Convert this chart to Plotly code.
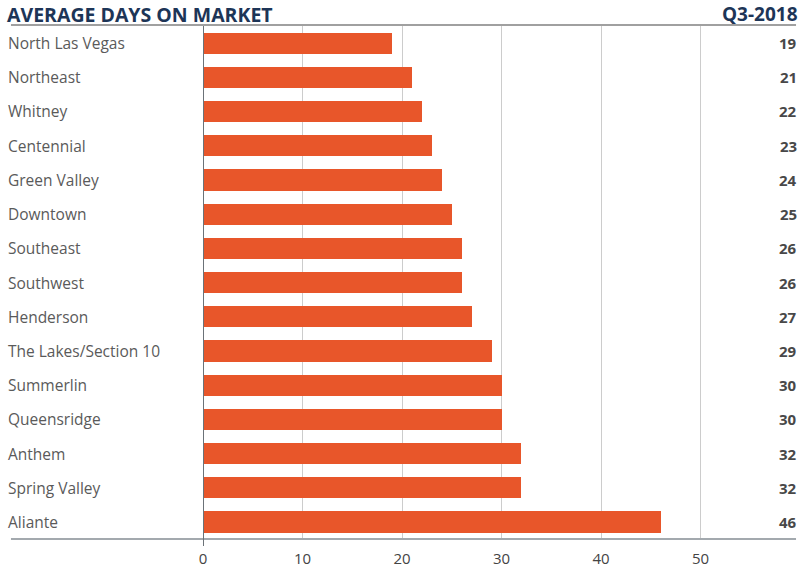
import plotly.graph_objects as go

categories = ["North Las Vegas", "Northeast", "Whitney", "Centennial", "Green Valley",
              "Downtown", "Southeast", "Southwest", "Henderson", "The Lakes/Section 10",
              "Summerlin", "Queensridge", "Anthem", "Spring Valley", "Aliante"]
values = [19, 21, 22, 23, 24, 25, 26, 26, 27, 29, 30, 30, 32, 32, 46]
tick_vals = [0, 10, 20, 30, 40, 50]
title_text = "AVERAGE DAYS ON MARKET"
period_text = "Q3-2018"

W, H = 800, 579
px_x = lambda p: p / W
px_y = lambda p: 1 - p / H

x_left, x_right = 200, 793
y_top, y_bot = 26, 539

fig = go.Figure()
fig.add_trace(go.Bar(
    x=values, y=categories, orientation="h",
    marker=dict(color="#E8562A", line=dict(width=0)),
    width=0.62, hoverinfo="x+y",
))

FONT = "'Open Sans', sans-serif"

annotations = []
for c, v in zip(categories, values):
    annotations.append(dict(x=px_x(2), y=c, xref="paper", yref="y", text=c,
                            showarrow=False, xanchor="left", yanchor="middle",
                            font=dict(family=FONT, size=15.5, color="#5A5A5A")))
    annotations.append(dict(x=px_x(799), y=c, xref="paper", yref="y", text="<b>" + str(v) + "</b>",
                            showarrow=False, xanchor="right", yanchor="middle",
                            font=dict(family=FONT, size=15, color="#484848")))
annotations.append(dict(x=px_x(1), y=px_y(14), xref="paper", yref="paper",
                        text="<b>" + title_text + "</b>", showarrow=False,
                        xanchor="left", yanchor="middle",
                        font=dict(family=FONT, size=19.5, color="#1D3557")))
annotations.append(dict(x=px_x(800), y=px_y(14), xref="paper", yref="paper",
                        text="<b>" + period_text + "</b>", showarrow=False,
                        xanchor="right", yanchor="middle",
                        font=dict(family=FONT, size=19, color="#1D3557")))

shapes = [
    dict(type="line", xref="paper", yref="paper", x0=px_x(7), x1=px_x(796),
         y0=px_y(25), y1=px_y(25), line=dict(color="#A0A0A0", width=2)),
    dict(type="line", xref="paper", yref="paper", x0=px_x(7), x1=px_x(796),
         y0=px_y(539), y1=px_y(539), line=dict(color="#A3A9AE", width=2)),
    dict(type="line", xref="x", yref="paper", x0=0, x1=0,
         y0=px_y(26), y1=px_y(546), line=dict(color="#6B7278", width=2)),
]

fig.update_layout(
    width=W, height=H,
    margin=dict(l=0, r=0, t=0, b=0),
    paper_bgcolor="white", plot_bgcolor="white",
    showlegend=False, bargap=0,
    xaxis=dict(domain=[px_x(x_left), px_x(x_right)],
               range=[0, (x_right - x_left) / 10.0],
               tickvals=tick_vals, ticks="", showline=False, zeroline=False,
               showgrid=True, gridcolor="#CCCCCC", gridwidth=1,
               tickfont=dict(family=FONT, size=15, color="#444444"),
               ticklabelstandoff=9,
               anchor="y"),
    yaxis=dict(domain=[px_y(y_bot), px_y(y_top)],
               categoryorder="array", categoryarray=categories,
               autorange="reversed", showticklabels=False, showgrid=False,
               zeroline=False, showline=False, ticks=""),
    annotations=annotations, shapes=shapes,
)

fig.write_html("out.html", config={"displayModeBar": False},
               post_script="document.body.style.margin='0';document.body.style.overflow='hidden';")
